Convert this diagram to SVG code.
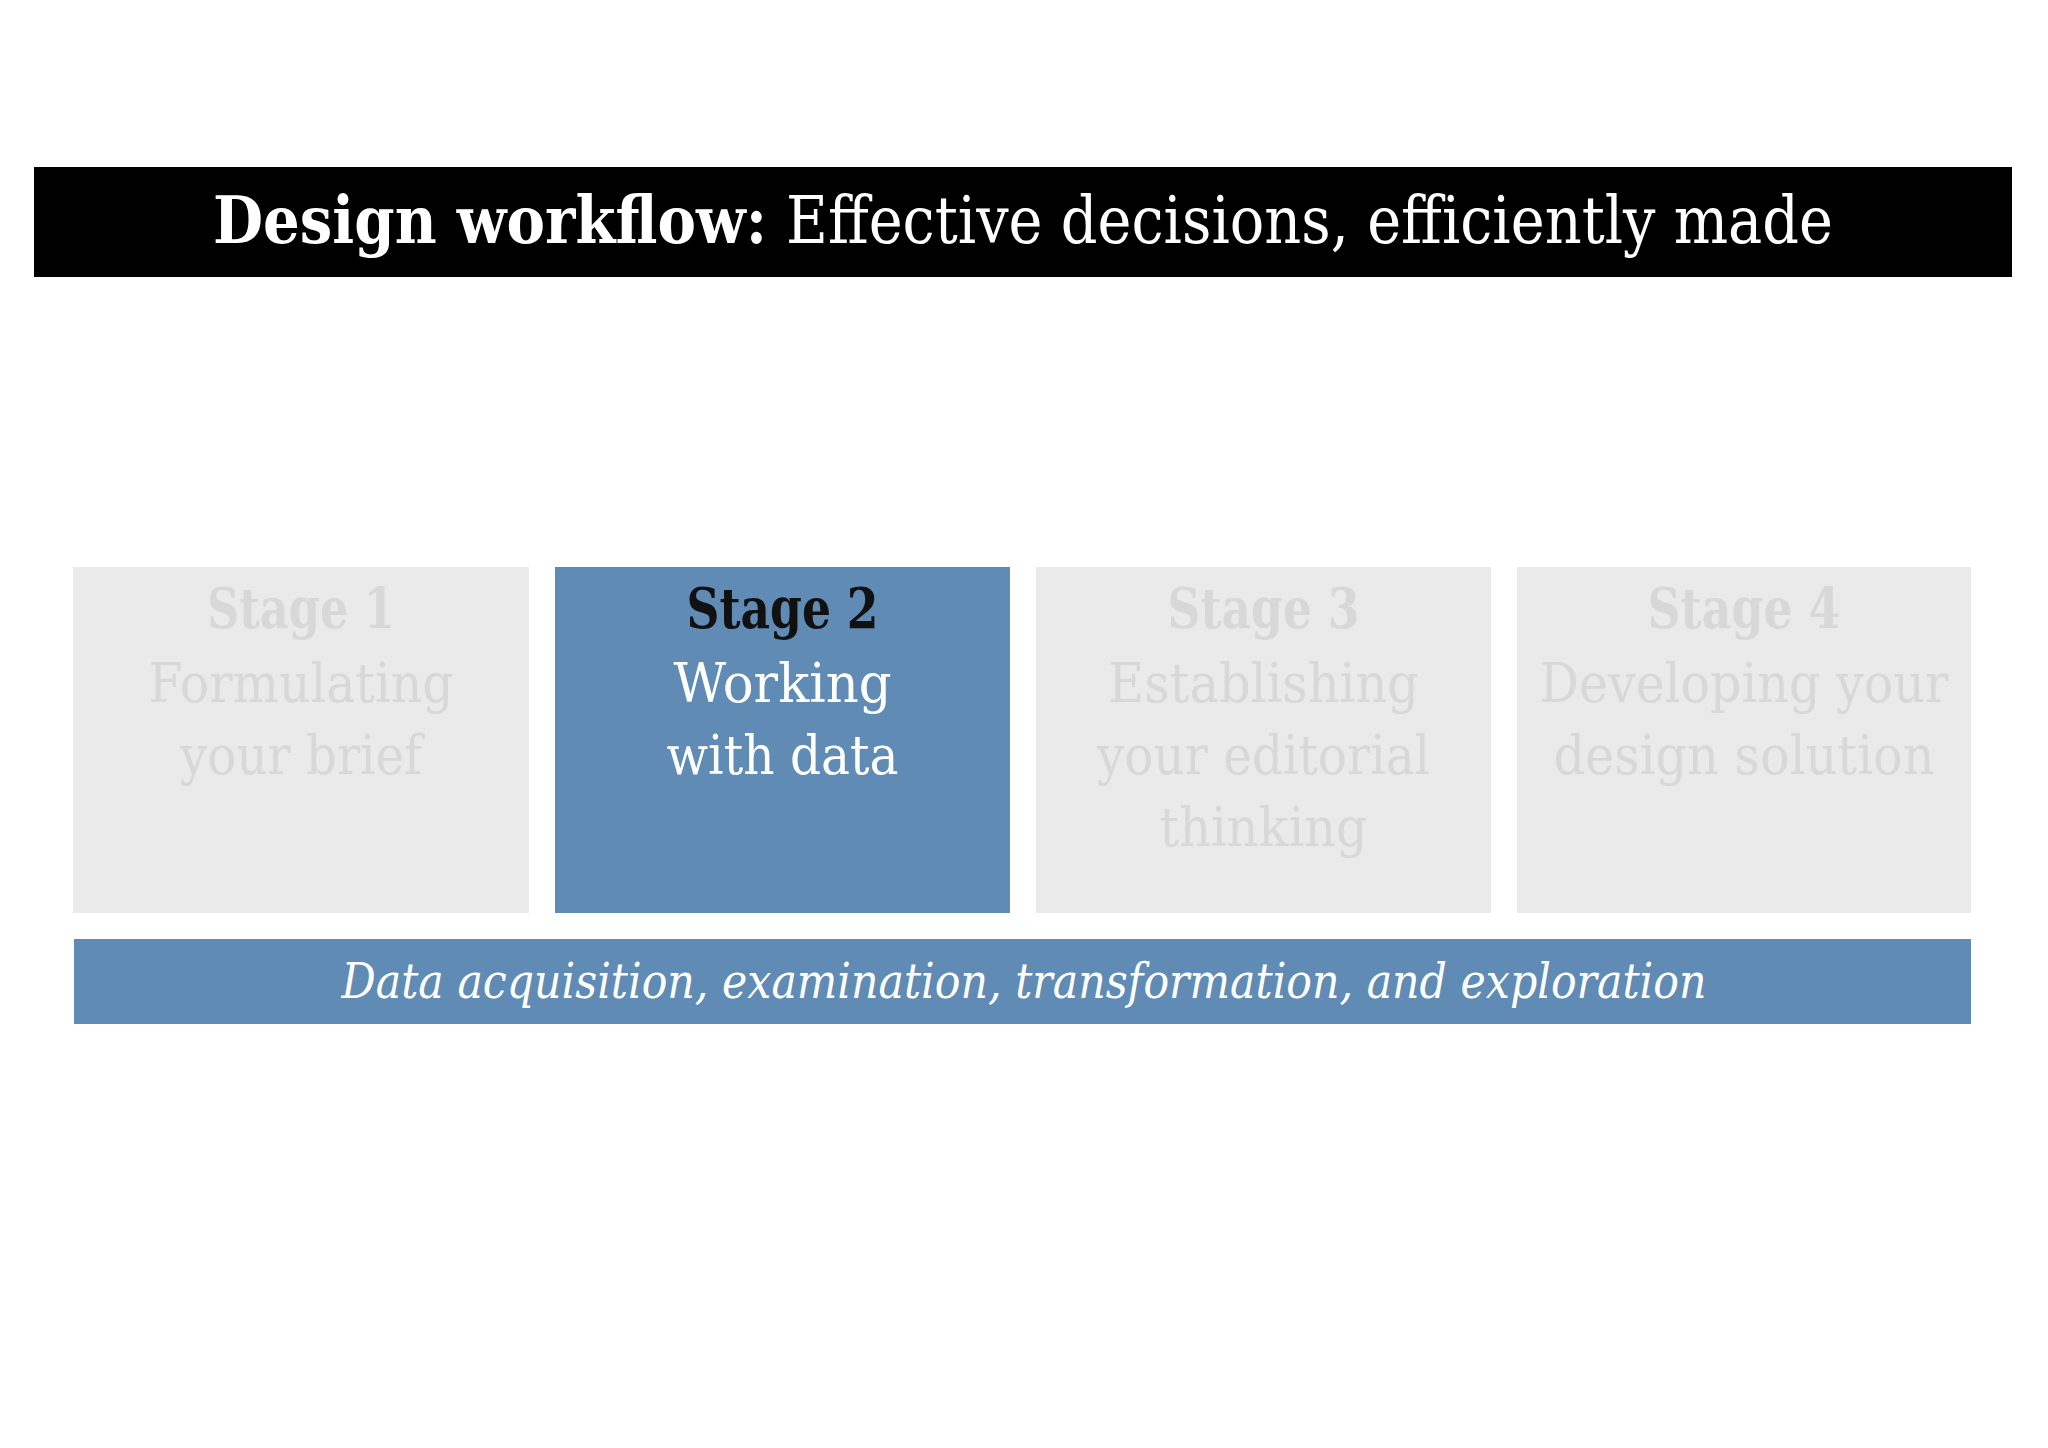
<svg xmlns="http://www.w3.org/2000/svg" width="2048" height="1448" viewBox="0 0 2048 1448">
<style>
text{font-family:"DejaVu Serif","Liberation Serif",serif;text-anchor:middle}
.ttl{font-size:66px;fill:#fff;text-anchor:start}
.box{fill:#eaeaea}
.hi{fill:#5f8bb5}
.h{font-size:56px;font-weight:bold}
.l{font-size:54px}
.g{fill:#d8d8d8}
.w{fill:#fff}
.k{fill:#111}
.bar{font-size:49px;font-style:italic;fill:#fff}
</style>
<rect width="2048" height="1448" fill="#fff"/>
<g id="title">
<rect x="34" y="167" width="1978" height="110" fill="#000"/>
<text class="ttl" x="213" y="243" font-weight="bold" textLength="554" lengthAdjust="spacingAndGlyphs">Design workflow:</text>
<text class="ttl" x="786" y="243" textLength="1047" lengthAdjust="spacingAndGlyphs">Effective decisions, efficiently made</text>
</g>
<g id="stage1">
<rect class="box" x="73" y="567" width="456" height="346"/>
<text class="h g" x="301" y="628" textLength="188" lengthAdjust="spacingAndGlyphs">Stage 1</text>
<text class="l g" x="301" y="702" textLength="305" lengthAdjust="spacingAndGlyphs">Formulating</text>
<text class="l g" x="301" y="774" textLength="242" lengthAdjust="spacingAndGlyphs">your brief</text>
</g>
<g id="stage2">
<rect class="hi" x="555" y="567" width="455" height="346"/>
<text class="h k" x="782.5" y="628" textLength="192" lengthAdjust="spacingAndGlyphs">Stage 2</text>
<text class="l w" x="782.5" y="702" textLength="218" lengthAdjust="spacingAndGlyphs">Working</text>
<text class="l w" x="782.5" y="774" textLength="232" lengthAdjust="spacingAndGlyphs">with data</text>
</g>
<g id="stage3">
<rect class="box" x="1036" y="567" width="455" height="346"/>
<text class="h g" x="1263.5" y="628" textLength="192" lengthAdjust="spacingAndGlyphs">Stage 3</text>
<text class="l g" x="1263.5" y="702" textLength="311" lengthAdjust="spacingAndGlyphs">Establishing</text>
<text class="l g" x="1263.5" y="774" textLength="333" lengthAdjust="spacingAndGlyphs">your editorial</text>
<text class="l g" x="1263.5" y="846" textLength="208" lengthAdjust="spacingAndGlyphs">thinking</text>
</g>
<g id="stage4">
<rect class="box" x="1517" y="567" width="454" height="346"/>
<text class="h g" x="1744" y="628" textLength="193" lengthAdjust="spacingAndGlyphs">Stage 4</text>
<text class="l g" x="1744" y="702" textLength="409" lengthAdjust="spacingAndGlyphs">Developing your</text>
<text class="l g" x="1744" y="774" textLength="381" lengthAdjust="spacingAndGlyphs">design solution</text>
</g>
<g id="databar">
<rect class="hi" x="74" y="939" width="1897" height="85"/>
<text class="bar" x="1024" y="998" textLength="1365" lengthAdjust="spacingAndGlyphs">Data acquisition, examination, transformation, and exploration</text>
</g>
<g id="connectors"/>
</svg>
